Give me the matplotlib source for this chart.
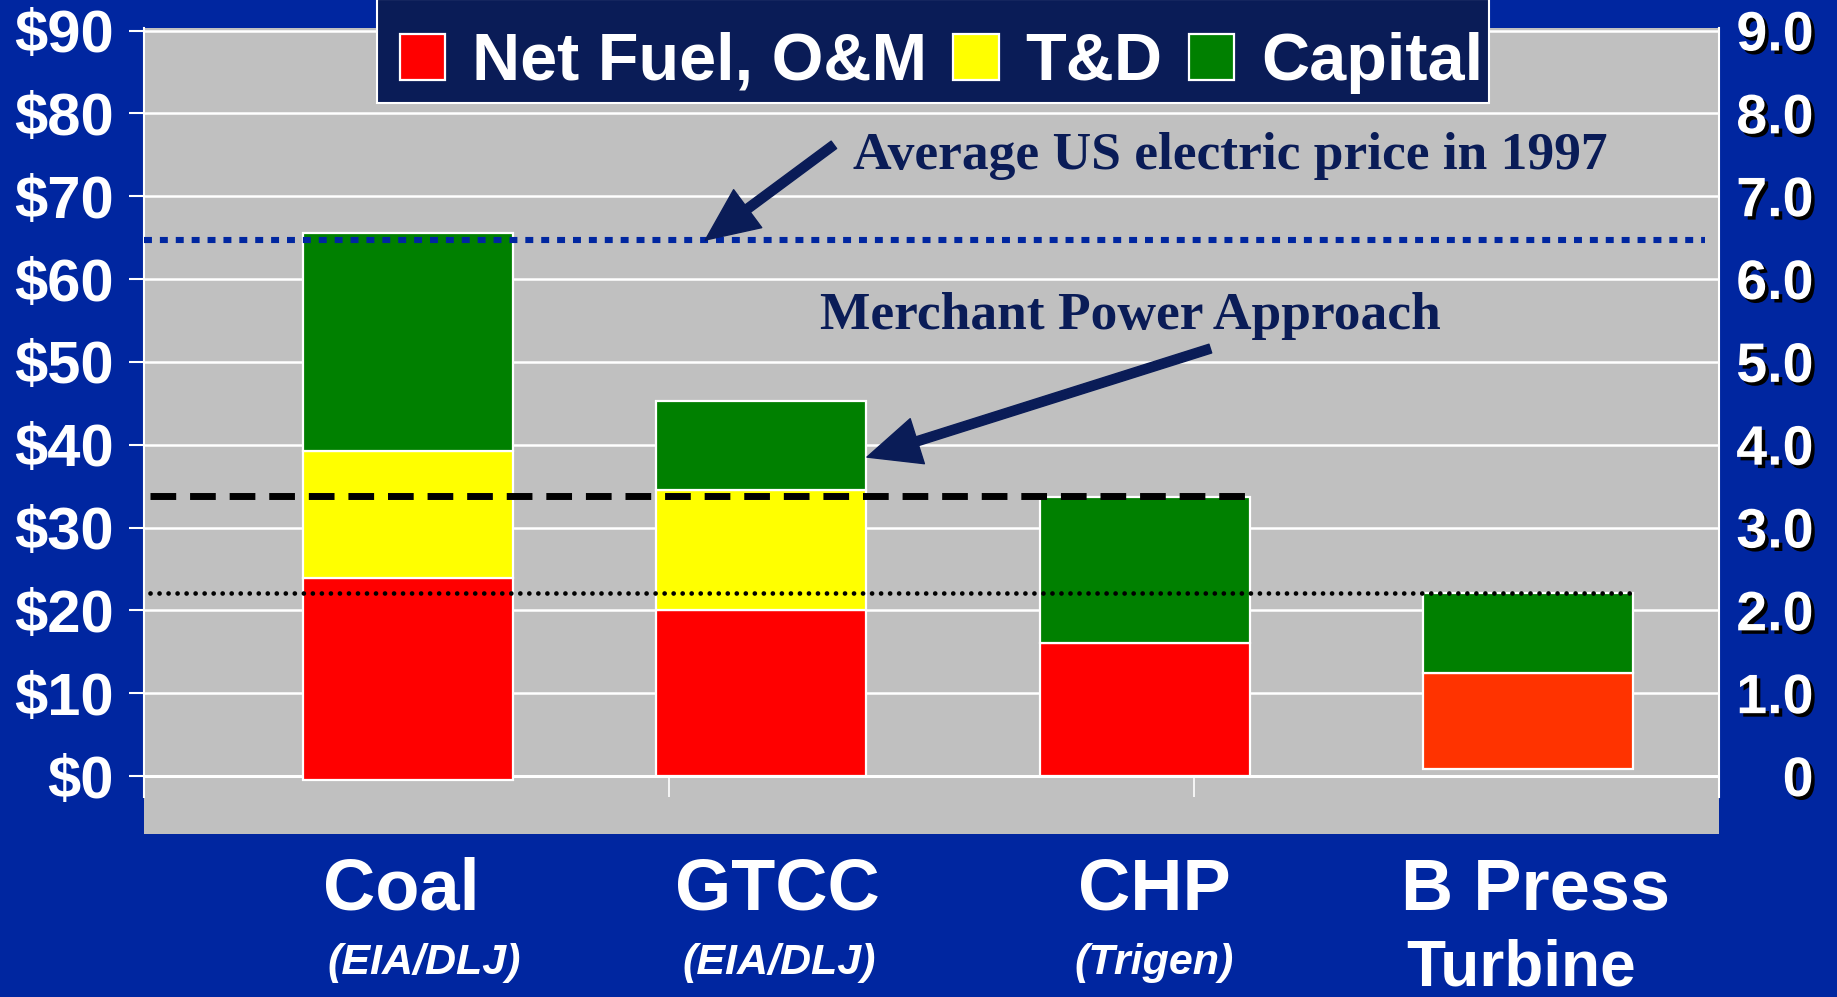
import matplotlib
matplotlib.use('Agg')
import matplotlib.pyplot as plt
import matplotlib.patheffects as pe
from matplotlib.patches import Rectangle
import numpy as np

# data ($/MWh, left axis)
plants = ['Coal', 'GTCC', 'CHP', 'B Press']
sub_labels = ['(EIA/DLJ)', '(EIA/DLJ)', '(Trigen)', 'Turbine']
base = [-0.5, 0.0, 0.0, 0.9]
fuel_om = [24.4, 20.1, 16.1, 11.5]
t_and_d = [15.3, 14.4, 0.0, 0.0]
capital = [26.4, 10.8, 17.6, 9.7]
avg_price_1997 = 64.7
merchant_level = 33.8
chp_level = 22.1
left_ticks = [0, 10, 20, 30, 40, 50, 60, 70, 80, 90]
right_labels = ['0', '1.0', '2.0', '3.0', '4.0', '5.0', '6.0', '7.0', '8.0', '9.0']

# layout (x in axis units, axis spans 0..3)
bar_x = [0.502, 1.175, 1.906, 2.637]
bar_w = 0.40
label_x = [0.491, 1.206, 1.924, 2.651]
sub_x = [0.533, 1.210, 1.924, 2.623]

BG = '#0026A0'
NAVY = '#0A1C57'
GRAY = '#C0C0C0'
SANS = ['Liberation Sans', 'DejaVu Sans']
SERIF = ['Liberation Serif', 'DejaVu Serif']

plt.rcParams['font.family'] = SANS

fig = plt.figure(figsize=(18.37, 9.97), dpi=100, facecolor=BG)
ax = fig.add_axes([0.0784, 0.1635, 0.8574, 0.8084])
ax.set_facecolor(GRAY)
ax.set_xlim(0, 3)
ax.set_ylim(-7.0, 90.3)

# gridlines
for v in left_ticks:
    ax.axhline(v, color='white', lw=1.8, zorder=1)

base = np.array(base)
fuel_om = np.array(fuel_om)
t_and_d = np.array(t_and_d)
capital = np.array(capital)

fuel_colors = ['#FF0000', '#FF0000', '#FF0000', '#FF3300']
ax.bar(bar_x, fuel_om, bar_w, bottom=base, color=fuel_colors,
       edgecolor='white', lw=1.6, zorder=3, label='Net Fuel, O&M')
has_td = t_and_d > 0
ax.bar(np.array(bar_x)[has_td], t_and_d[has_td], bar_w,
       bottom=(base + fuel_om)[has_td], color='#FFFF00',
       edgecolor='white', lw=1.6, zorder=3, label='T&D')
ax.bar(bar_x, capital, bar_w, bottom=base + fuel_om + t_and_d,
       color='#008000', edgecolor='white', lw=1.6, zorder=3, label='Capital')

# reference lines
ax.plot([0.0, 2.973], [avg_price_1997] * 2, color=BG, lw=4.4,
        linestyle=(0, (1.3, 1.3)), dash_capstyle='butt', zorder=4)
ax.plot([0.011, 2.105], [merchant_level] * 2, color='black', lw=5,
        linestyle=(0, (3.7, 2.0)), dash_capstyle='butt', zorder=4)
ax.plot([0.011, 2.837], [chp_level] * 2, color='black', lw=3.4,
        linestyle=(0, (0.01, 1.9)), dash_capstyle='round', zorder=4)

# annotations
ax.text(1.350, 74.9, 'Average US electric price in 1997', family=SERIF,
        fontsize=38.5, fontweight='bold', color=NAVY, va='center', ha='left', zorder=5)
ax.text(1.288, 55.5, 'Merchant Power Approach', family=SERIF,
        fontsize=38.5, fontweight='bold', color=NAVY, va='center', ha='left', zorder=5)
arrow = 'simple,head_length=1.9,head_width=1.7,tail_width=0.33'
ax.annotate('', xy=(1.069, 64.7), xytext=(1.314, 76.2),
            arrowprops=dict(arrowstyle=arrow, color=NAVY, mutation_scale=20,
                            shrinkA=0, shrinkB=0), zorder=5)
ax.annotate('', xy=(1.377, 38.5), xytext=(2.031, 51.6),
            arrowprops=dict(arrowstyle=arrow, color=NAVY, mutation_scale=20,
                            shrinkA=0, shrinkB=0), zorder=5)

# axes frame
for s in ['top', 'bottom']:
    ax.spines[s].set_visible(False)
for s in ['left', 'right']:
    ax.spines[s].set_color('white')
    ax.spines[s].set_linewidth(1.5)
    ax.spines[s].set_bounds(-2.5, 90.3)
ax.axhline(0, color='white', lw=2.2, zorder=2)
ax.vlines([1, 2], -2.5, 0, color='white', lw=1.2, zorder=2)

ax.set_xticks([])
ax.set_yticks(left_ticks)
ax.set_yticklabels(['$%d' % v for v in left_ticks])
ax.tick_params(axis='y', colors='white', length=11, width=1.5, pad=11,
               labelsize=43)
for t in ax.get_yticklabels():
    t.set_fontweight('bold')

ax2 = ax.twinx()
ax2.set_ylim(ax.get_ylim())
ax2.set_yticks(left_ticks)
ax2.set_yticklabels(right_labels)
ax2.tick_params(axis='y', colors='white', length=0, pad=68, labelsize=40)
for t in ax2.get_yticklabels():
    t.set_fontweight('bold')
    t.set_horizontalalignment('right')
    t.set_path_effects([pe.withSimplePatchShadow(offset=(2.5, -2.5),
                                                  shadow_rgbFace='black', alpha=1.0)])
for s in ax2.spines.values():
    s.set_visible(False)

# category labels under the plot
for i, name in enumerate(plants):
    xf = ax.transData.transform((label_x[i], 0))[0] / fig.bbox.width
    fig.text(xf, 1 - 891 / 997, name, color='white', fontsize=52,
             fontweight='bold', ha='center', va='center')
    xs = ax.transData.transform((sub_x[i], 0))[0] / fig.bbox.width
    if sub_labels[i].startswith('('):
        fig.text(xs, 1 - 963 / 997, sub_labels[i], color='white', fontsize=31,
                 fontweight='bold', style='italic', ha='center', va='center')
    else:
        fig.text(xs, 1 - 968 / 997, sub_labels[i], color='white', fontsize=46,
                 fontweight='bold', ha='center', va='center')

# legend: navy box drawn separately, entries placed inside it
box = Rectangle((377 / 1837, 1 - 103 / 997), 1112 / 1837, 104 / 997,
                transform=fig.transFigure, facecolor=NAVY, edgecolor='white',
                lw=1.5, zorder=4)
fig.add_artist(box)
leg = fig.legend(loc='upper left', bbox_to_anchor=(399.5 / 1837, 1 - 32 / 997), ncol=3,
                 fontsize=48, frameon=False, handlelength=0.68,
                 handleheight=0.68, handletextpad=0.4, columnspacing=0.4,
                 borderpad=0.0, borderaxespad=0.0)
leg.set_zorder(5)
for t in leg.get_texts():
    t.set_color('white')
    t.set_fontweight('bold')

fig.savefig('out.png', dpi=100, facecolor=BG)
